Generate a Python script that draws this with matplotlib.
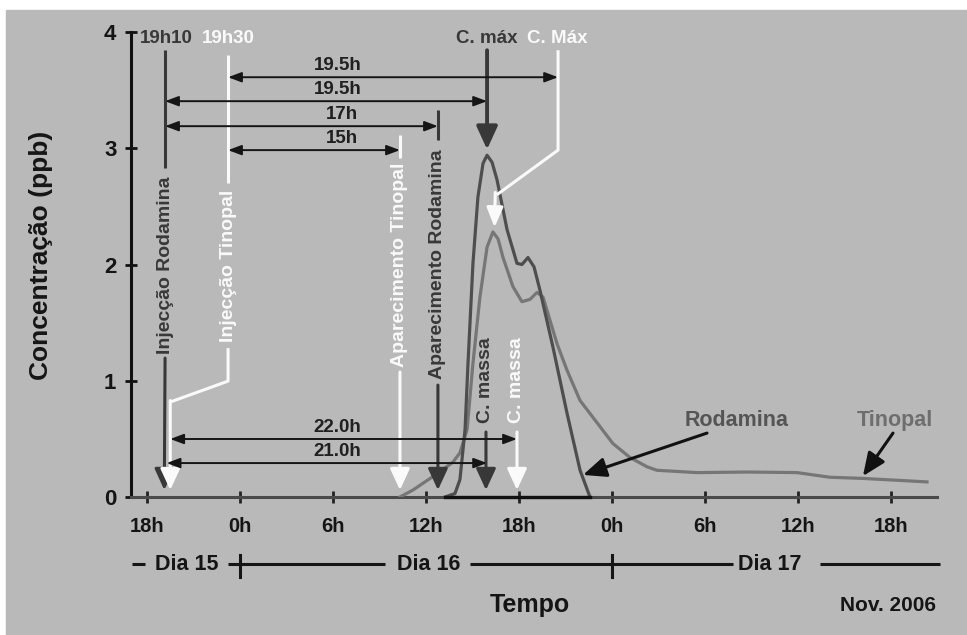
import matplotlib
matplotlib.use("Agg")
import matplotlib.pyplot as plt
from matplotlib.patches import Rectangle

plt.rcParams['font.family'] = ['Liberation Sans', 'DejaVu Sans']
plt.rcParams['font.weight'] = 'bold'

# tempo em horas contadas desde 0h do dia 15
rodamina_t = [37.23, 37.87, 38.19, 38.52, 38.71, 39.03, 39.35, 39.68, 39.94, 40.26, 40.58,
              41.23, 41.87, 42.19, 42.58, 42.97, 43.35, 44.19, 45.10, 45.94, 46.58]
rodamina_c = [0, 0.03, 0.15, 0.58, 1.15, 2.01, 2.58, 2.87, 2.94, 2.88, 2.73,
              2.30, 2.01, 2.00, 2.06, 1.98, 1.78, 1.29, 0.72, 0.23, 0]

tinopal_t = [34.32, 35.16, 36.71, 37.74, 38.19, 38.65, 39.03, 39.48, 39.94, 40.32, 40.65,
             40.97, 41.61, 42.19, 42.71, 43.16, 43.55, 44.45, 45.10, 45.94, 47.03, 48.06,
             49.16, 50.26, 50.90, 53.48, 56.71, 59.94, 62.06, 64.19, 68.32]
tinopal_c = [0, 0.06, 0.20, 0.30, 0.38, 0.58, 1.15, 1.72, 2.15, 2.28, 2.22,
             2.06, 1.81, 1.68, 1.70, 1.76, 1.72, 1.32, 1.09, 0.83, 0.64, 0.46,
             0.34, 0.26, 0.23, 0.21, 0.215, 0.21, 0.17, 0.16, 0.13]

xticks = [18, 24, 30, 36, 42, 48, 54, 60, 66]
xlabels = ['18h', '0h', '6h', '12h', '18h', '0h', '6h', '12h', '18h']
yticks = [0, 1, 2, 3, 4]

# eventos (h)
inj_rod = 19 + 10 / 60
inj_tin = 19 + 30 / 60
inj_tin_lab = 23.23
ap_tin = 34.32
ap_rod = 36.77
cmax_rod = 39.94
cmax_tin = 40.42
cmax_tin_lab = 44.52
cmassa_rod = 39.87
cmassa_tin = 41.87

BG = '#b9b9b9'
DARK = '#383838'
WHITE = '#fafafa'
ROD = '#4e4e4e'
TIN = '#767676'

fig = plt.figure(figsize=(9.67, 6.35), dpi=100)
fig.patches.append(Rectangle((6 / 967, 0), 1, 1 - 10 / 635, transform=fig.transFigure,
                             color=BG, zorder=-1))
ax = fig.add_axes([0.1355, 0.2173, 0.8335, 0.7323])
ax.set_facecolor('none')
ax.set_xlim(16.97, 68.97)
ax.set_ylim(0, 4)

ax.plot(tinopal_t, tinopal_c, color=TIN, lw=2.3, zorder=3, solid_joinstyle='round')
ax.plot(rodamina_t, rodamina_c, color=ROD, lw=2.3, zorder=4, solid_joinstyle='round')
ax.plot([rodamina_t[0], rodamina_t[-1]], [0, 0], color='#111111', lw=2.4, zorder=5, clip_on=False)

for s in ['top', 'right']:
    ax.spines[s].set_visible(False)
ax.spines['left'].set_color('#111111')
ax.spines['left'].set_linewidth(2.2)
ax.spines['bottom'].set_color('#4a4a4a')
ax.spines['bottom'].set_linewidth(2.2)
ax.set_xticks(xticks)
ax.set_xticklabels(xlabels)
ax.set_yticks(yticks)
ax.tick_params(axis='x', direction='inout', length=9, width=2, color='#222222',
               labelsize=14.5, pad=10, labelcolor='#151515')
ax.tick_params(axis='y', direction='inout', length=9, width=2, color='#111111',
               labelsize=16, pad=6, labelcolor='#151515')


def seg(xs, ys, color, lw=2.2):
    ax.plot(xs, ys, color=color, lw=lw, solid_capstyle='butt', clip_on=False, zorder=6)


def arrow(x0, y0, x1, y1, color, lw=2.2, hl=0.65, hw=0.3, ms=20):
    ax.annotate('', xy=(x1, y1), xytext=(x0, y0),
                arrowprops=dict(arrowstyle=f'-|>,head_length={hl},head_width={hw}',
                                color=color, lw=lw, mutation_scale=ms,
                                shrinkA=0, shrinkB=0), zorder=7)


def span(x0, x1, y, label, xl=30.3):
    ax.annotate('', xy=(x1, y), xytext=(x0, y),
                arrowprops=dict(arrowstyle='<|-|>,head_length=0.8,head_width=0.3',
                                color='#151515', lw=1.4, mutation_scale=10,
                                shrinkA=0, shrinkB=0), zorder=7)
    ax.text(xl, y + 0.025, label, ha='center', va='bottom', fontsize=13.5,
            color='#202020', zorder=8)


def vlabel(x, y, label, color):
    ax.text(x, y, label, rotation=90, ha='center', va='center', fontsize=14,
            color=color, zorder=8)


# injecção rodamina
ax.text(inj_rod + 0.05, 3.947, '19h10', ha='center', va='center', fontsize=13.5, color=DARK)
seg([inj_rod, inj_rod], [3.843, 2.829], DARK)
vlabel(inj_rod, 1.995, 'Injecção Rodamina', DARK)
arrow(inj_rod, 1.195, inj_rod - 0.05, 0.06, DARK)

# injecção tinopal
ax.text(inj_tin_lab, 3.947, '19h30', ha='center', va='center', fontsize=13.5, color=WHITE)
seg([inj_tin_lab, inj_tin_lab], [3.80, 2.70], WHITE)
vlabel(inj_tin_lab, 1.99, 'Injecção Tinopal', WHITE)
seg([inj_tin_lab, inj_tin_lab, inj_tin], [1.281, 0.997, 0.817], WHITE)
arrow(inj_tin, 0.83, inj_tin, 0.06, WHITE)

# aparecimento tinopal
seg([ap_tin, ap_tin], [3.113, 2.915], WHITE)
vlabel(ap_tin, 1.995, 'Aparecimento Tinopal', WHITE)
arrow(ap_tin, 1.075, ap_tin, 0.06, WHITE)

# aparecimento rodamina
seg([ap_rod, ap_rod], [3.328, 3.07], DARK)
vlabel(ap_rod, 2.003, 'Aparecimento Rodamina', DARK)
arrow(ap_rod, 0.963, ap_rod, 0.06, DARK)

# concentração máxima
ax.text(cmax_rod, 3.947, 'C. máx', ha='center', va='center', fontsize=13.5, color=DARK)
arrow(cmax_rod, 3.843, cmax_rod, 2.99, DARK, lw=2.8, hl=0.7, hw=0.32)
ax.text(cmax_tin_lab - 0.04, 3.947, 'C. Máx', ha='center', va='center', fontsize=13.5, color=WHITE)
seg([cmax_tin_lab, cmax_tin_lab, cmax_tin + 0.15], [3.843, 2.984, 2.60], WHITE)
arrow(cmax_tin + 0.05, 2.62, cmax_tin, 2.32, WHITE, hl=0.6, hw=0.25)

# centro de massa
vlabel(cmassa_rod, 1.006, 'C. massa', DARK)
arrow(cmassa_rod, 0.559, cmassa_rod, 0.06, DARK)
vlabel(cmassa_tin, 1.006, 'C. massa', WHITE)
arrow(cmassa_tin, 0.559, cmassa_tin, 0.06, WHITE)

# intervalos
span(inj_tin_lab, cmax_tin_lab, 3.611, '19.5h')
span(inj_rod, cmax_rod, 3.405, '19.5h')
span(inj_rod, ap_rod, 3.19, '17h', xl=30.6)
span(inj_tin_lab, ap_tin, 2.984, '15h', xl=30.6)
span(inj_tin, cmassa_tin, 0.499, '22.0h')
span(inj_rod + 0.1, cmax_rod, 0.292, '21.0h')

# legendas das curvas
ax.text(56.06, 0.662, 'Rodamina', ha='center', va='center', fontsize=15.5, color='#555555')
ax.annotate('', xy=(46.13, 0.19), xytext=(54.13, 0.55),
            arrowprops=dict(arrowstyle='-|>,head_length=0.7,head_width=0.3', color='#111111',
                            lw=2.2, mutation_scale=20, shrinkA=0, shrinkB=0))
ax.text(66.26, 0.662, 'Tinopal', ha='center', va='center', fontsize=15.5, color='#6e6e6e')
ax.annotate('', xy=(64.19, 0.18), xytext=(66.13, 0.55),
            arrowprops=dict(arrowstyle='-|>,head_length=0.7,head_width=0.3', color='#111111',
                            lw=2.2, mutation_scale=20, shrinkA=0, shrinkB=0))

# linha dos dias
tr = ax.get_xaxis_transform()
yd = -0.1441
for x0, x1 in [(17.03, 17.87), (23.23, 33.35), (38.84, 55.8), (61.4, 69.16)]:
    ax.plot([x0, x1], [yd, yd], color='#151515', lw=2.2, transform=tr, clip_on=False,
            solid_capstyle='butt')
for xt in [24, 48]:
    ax.plot([xt, xt], [-0.1247, -0.172], color='#151515', lw=2.2, transform=tr, clip_on=False)
for xc, lab in [(20.55, 'Dia 15'), (36.16, 'Dia 16'), (58.2, 'Dia 17')]:
    ax.text(xc, yd, lab, transform=tr, ha='center', va='center', fontsize=15.5, color='#151515')

fig.text(0.042, 0.598, 'Concentração (ppb)', rotation=90, ha='center', va='center',
         fontsize=19, color='#151515')
fig.text(0.548, 0.0472, 'Tempo', ha='center', va='center', fontsize=18, color='#151515')
fig.text(0.918, 0.0472, 'Nov. 2006', ha='center', va='center', fontsize=15, color='#151515')

fig.savefig('out.png', dpi=100)
